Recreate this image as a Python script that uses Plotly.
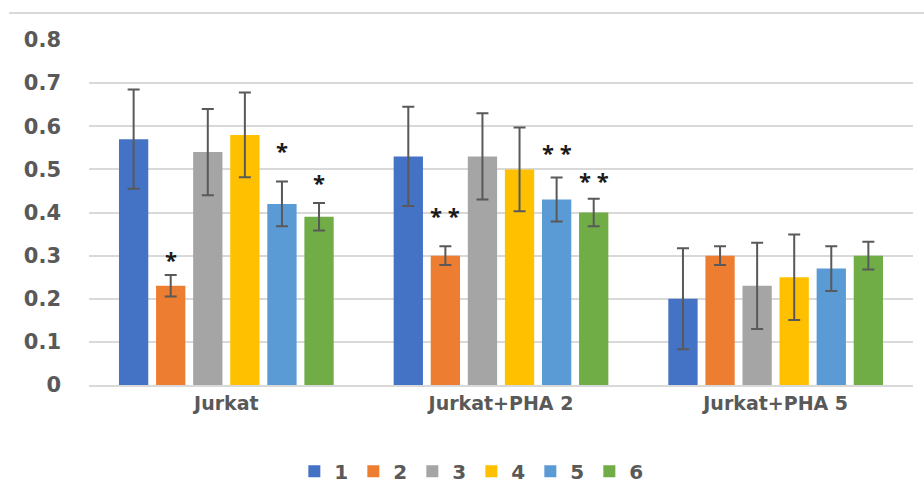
import plotly.graph_objects as go

# Groups and series
categories = ["Jurkat", "Jurkat+PHA 2", "Jurkat+PHA 5"]
series_names = ["1", "2", "3", "4", "5", "6"]
colors = ["#4472C4", "#ED7D31", "#A5A5A5", "#FFC000", "#5B9BD5", "#70AD47"]

# Mean values per series (one value per group)
values = [
    [0.57, 0.53, 0.20],
    [0.23, 0.30, 0.30],
    [0.54, 0.53, 0.23],
    [0.58, 0.50, 0.25],
    [0.42, 0.43, 0.27],
    [0.39, 0.40, 0.30],
]
# Error magnitudes (symmetric)
errors = [
    [0.115, 0.115, 0.117],
    [0.025, 0.022, 0.022],
    [0.100, 0.100, 0.100],
    [0.098, 0.097, 0.099],
    [0.052, 0.051, 0.052],
    [0.032, 0.032, 0.032],
]

# Significance marks: (group index, series index, label, height)
sig_marks = [
    (0, 1, "*", 0.296),
    (0, 4, "*", 0.550),
    (0, 5, "*", 0.475),
    (1, 1, "* *", 0.398),
    (1, 4, "* *", 0.546),
    (1, 5, "* *", 0.479),
]

y_ticks = [0, 0.1, 0.2, 0.3, 0.4, 0.5, 0.6, 0.7, 0.8]
y_tick_text = ["0", "0.1", "0.2", "0.3", "0.4", "0.5", "0.6", "0.7", "0.8"]

BARGAP = 0.19
BARGROUPGAP = 0.21
FONT = "DejaVu Sans"
TEXT_COLOR = "#595959"

fig = go.Figure()
for name, color, vals, errs in zip(series_names, colors, values, errors):
    fig.add_trace(go.Bar(
        name=name,
        x=categories,
        y=vals,
        marker=dict(color=color, line=dict(width=0)),
        error_y=dict(type="data", array=errs, visible=True,
                     color="#595959", thickness=2, width=6),
    ))

# Significance asterisks placed over their bars
n = len(series_names)
slot = (1 - BARGAP) / n
for g, s, label, h in sig_marks:
    fig.add_annotation(
        x=g + (s - (n - 1) / 2) * slot, y=h, xref="x", yref="y",
        text=label, showarrow=False, yanchor="middle", yshift=-2,
        font=dict(family="Open Sans", size=22, color="#1a1a1a", weight="bold"),
    )

# Thin border line along the top of the chart area
fig.add_shape(type="line", xref="paper", yref="paper",
              x0=-0.097, x1=1.02, y0=1.078, y1=1.078,
              line=dict(color="#D9D9D9", width=2))

fig.update_layout(
    width=924, height=501,
    margin=dict(l=89, r=11, t=40, b=115),
    paper_bgcolor="white", plot_bgcolor="white",
    barmode="group", bargap=BARGAP, bargroupgap=BARGROUPGAP,
    showlegend=True,
    legend=dict(orientation="h", x=0.464, xanchor="center", y=-0.19, yanchor="top",
                font=dict(family=FONT, size=20, color=TEXT_COLOR, weight="bold"),
                itemwidth=30, entrywidth=14, traceorder="normal"),
    xaxis=dict(
        showgrid=False, showline=True, linecolor="#D9D9D9", linewidth=1.5,
        ticks="", tickfont=dict(family=FONT, size=19, color=TEXT_COLOR, weight="bold"),
    ),
    yaxis=dict(
        range=[0, 0.8], tickvals=y_ticks, ticktext=y_tick_text,
        showgrid=True, gridcolor="#D9D9D9", gridwidth=1.5,
        zeroline=False, showline=False, ticks="",
        ticklabelstandoff=27,
        tickfont=dict(family=FONT, size=21, color=TEXT_COLOR, weight="bold"),
    ),
)

fig.write_html("out.html")
